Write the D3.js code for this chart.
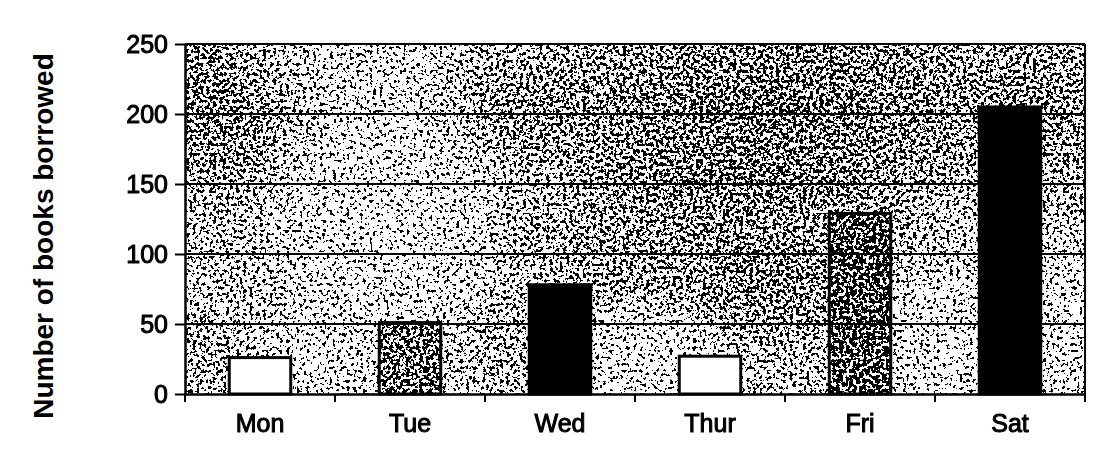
<!DOCTYPE html>
<html>
<head>
<meta charset="utf-8">
<script src="https://cdn.jsdelivr.net/npm/d3@7"></script>
<style>
  html, body { margin: 0; padding: 0; background: #fff; }
  svg { display: block; font-family: "Liberation Sans", Arial, sans-serif; }
</style>
</head>
<body>
<svg id="chart" width="1118" height="465"></svg>
<script>
// ---- data ----
const days = ["Mon", "Tue", "Wed", "Thur", "Fri", "Sat"];
const booksBorrowed = [26, 51, 78, 27, 129, 205];
const barStyle = ["white", "stipple", "black", "white", "stippleDark", "black"];
const yTicks = [0, 50, 100, 150, 200, 250];
const yTitle = "Number of books borrowed";

// ---- texture blobs (background shading only, not data) ----
const textureBlobs = [
  {cx: 215, cy: 95, rx: 110, ry: 130, tone: "dark", a: 0.4},
  {cx: 780, cy: 105, rx: 320, ry: 120, tone: "dark", a: 0.45},
  {cx: 720, cy: 235, rx: 250, ry: 110, tone: "dark", a: 0.32},
  {cx: 1060, cy: 110, rx: 90, ry: 110, tone: "dark", a: 0.25},
  {cx: 500, cy: 110, rx: 90, ry: 80, tone: "dark", a: 0.2},
  {cx: 385, cy: 225, rx: 140, ry: 190, tone: "light", a: 1},
  {cx: 640, cy: 365, rx: 100, ry: 75, tone: "light", a: 1},
  {cx: 945, cy: 345, rx: 95, ry: 105, tone: "light", a: 1},
  {cx: 1075, cy: 320, rx: 55, ry: 110, tone: "light", a: 0.9},
  {cx: 340, cy: 60, rx: 130, ry: 60, tone: "light", a: 0.6},
  {cx: 300, cy: 360, rx: 70, ry: 55, tone: "light", a: 0.9},
  {cx: 500, cy: 345, rx: 70, ry: 60, tone: "dark", a: 0.15},
  {cx: 205, cy: 355, rx: 50, ry: 50, tone: "dark", a: 0.15},
  {cx: 780, cy: 300, rx: 90, ry: 70, tone: "dark", a: 0.22}
];

const svg = d3.select("#chart");
const margin = {left: 185, right: 33, top: 44, bottom: 71};
const W = 1118, H = 465;
const x0 = margin.left, x1 = W - margin.right, y0 = H - margin.bottom, y1 = margin.top;

const x = d3.scaleBand().domain(days).range([x0, x1]).paddingInner(0.59).paddingOuter(0.295);
const y = d3.scaleLinear().domain([0, 250]).range([y0, y1]);

const defs = svg.append("defs");
["dark", "light"].forEach(t => {
  const g = defs.append("radialGradient").attr("id", "grad-" + t);
  const c = t === "dark" ? "#000" : "#fff";
  g.append("stop").attr("offset", "0%").attr("stop-color", c).attr("stop-opacity", 1);
  g.append("stop").attr("offset", "60%").attr("stop-color", c).attr("stop-opacity", 0.6);
  g.append("stop").attr("offset", "100%").attr("stop-color", c).attr("stop-opacity", 0);
});

const K = 4;
const f = defs.append("filter").attr("id", "stipple")
  .attr("filterUnits", "userSpaceOnUse")
  .attr("x", x0).attr("y", y1).attr("width", x1 - x0).attr("height", y0 - y1)
  .attr("color-interpolation-filters", "sRGB");
f.append("feTurbulence").attr("type", "fractalNoise").attr("baseFrequency", 0.3)
  .attr("numOctaves", 2).attr("seed", 5).attr("result", "turb");
f.append("feColorMatrix").attr("in", "turb").attr("type", "matrix")
  .attr("values", "1 0 0 0 0  1 0 0 0 0  1 0 0 0 0  0 0 0 0 1").attr("result", "noise");
f.append("feComposite").attr("in", "noise").attr("in2", "SourceGraphic")
  .attr("operator", "arithmetic").attr("k1", 0).attr("k2", K).attr("k3", 1).attr("k4", -K / 2)
  .attr("result", "mix");
f.append("feColorMatrix").attr("in", "mix").attr("type", "matrix")
  .attr("values", "0 0 0 0 0  0 0 0 0 0  0 0 0 0 0  -40 0 0 0 20");

svg.append("rect").attr("x", x0).attr("y", y1).attr("width", x1 - x0).attr("height", y0 - y1).attr("fill", "#fff");

const dens = svg.append("g").attr("filter", "url(#stipple)");
dens.append("rect").attr("x", x0).attr("y", y1).attr("width", x1 - x0).attr("height", y0 - y1)
  .attr("fill", "rgb(204,204,204)");
dens.selectAll("ellipse").data(textureBlobs).join("ellipse")
  .attr("cx", d => d.cx).attr("cy", d => d.cy).attr("rx", d => d.rx).attr("ry", d => d.ry)
  .attr("fill", d => "url(#grad-" + d.tone + ")").attr("opacity", d => d.a);
const barData = days.map((d, i) => ({day: d, v: booksBorrowed[i], s: barStyle[i]}));
dens.selectAll("rect.bd").data(barData.filter(d => d.s.startsWith("stipple"))).join("rect")
  .attr("class", "bd")
  .attr("x", d => x(d.day)).attr("y", d => y(d.v))
  .attr("width", x.bandwidth()).attr("height", d => y(0) - y(d.v))
  .attr("fill", d => d.s === "stippleDark" ? "rgb(85,85,85)" : "rgb(115,115,115)");

svg.append("g").selectAll("line").data(yTicks.filter(t => t > 0)).join("line")
  .attr("x1", x0).attr("x2", x1).attr("y1", d => y(d)).attr("y2", d => y(d))
  .attr("stroke", "#000").attr("stroke-width", 2.2);

svg.append("g").selectAll("rect").data(barData).join("rect")
  .attr("x", d => x(d.day)).attr("y", d => y(d.v))
  .attr("width", x.bandwidth()).attr("height", d => y(0) - y(d.v))
  .attr("fill", d => d.s === "white" ? "#fff" : d.s === "black" ? "#000" : "none")
  .attr("stroke", "#000").attr("stroke-width", 3);

svg.append("line").attr("x1", x1).attr("x2", x1).attr("y1", y1).attr("y2", y0 + 7)
  .attr("stroke", "#000").attr("stroke-width", 2);

const yAxis = svg.append("g").attr("transform", `translate(${x0},0)`)
  .call(d3.axisLeft(y).tickValues(yTicks).tickSize(10).tickPadding(7).tickSizeOuter(0));
yAxis.select(".domain").attr("stroke-width", 2.5);
yAxis.selectAll(".tick line").attr("stroke-width", 2);
yAxis.selectAll("text").attr("font-size", 25).attr("fill", "#000")
  .attr("stroke", "#000").attr("stroke-width", 1).attr("font-family", "Liberation Sans, Arial, sans-serif");

const xAxis = svg.append("g").attr("transform", `translate(0,${y0})`)
  .call(d3.axisBottom(x).tickSize(0).tickPadding(20).tickSizeOuter(0));
xAxis.select(".domain").attr("stroke-width", 2.5);
xAxis.selectAll("text").attr("font-size", 25).attr("fill", "#000")
  .attr("stroke", "#000").attr("stroke-width", 1).attr("font-family", "Liberation Sans, Arial, sans-serif");

const bounds = d3.range(days.length + 1).map(i => x0 + i * x.step());
svg.append("g").selectAll("line").data(bounds).join("line")
  .attr("x1", d => d).attr("x2", d => d).attr("y1", y0).attr("y2", y0 + 8)
  .attr("stroke", "#000").attr("stroke-width", 2);

svg.append("text")
  .attr("transform", `translate(53,236) rotate(-90)`)
  .attr("text-anchor", "middle")
  .attr("font-size", 28).attr("font-weight", "bold").attr("fill", "#000")
  .text(yTitle);
</script>
</body>
</html>
